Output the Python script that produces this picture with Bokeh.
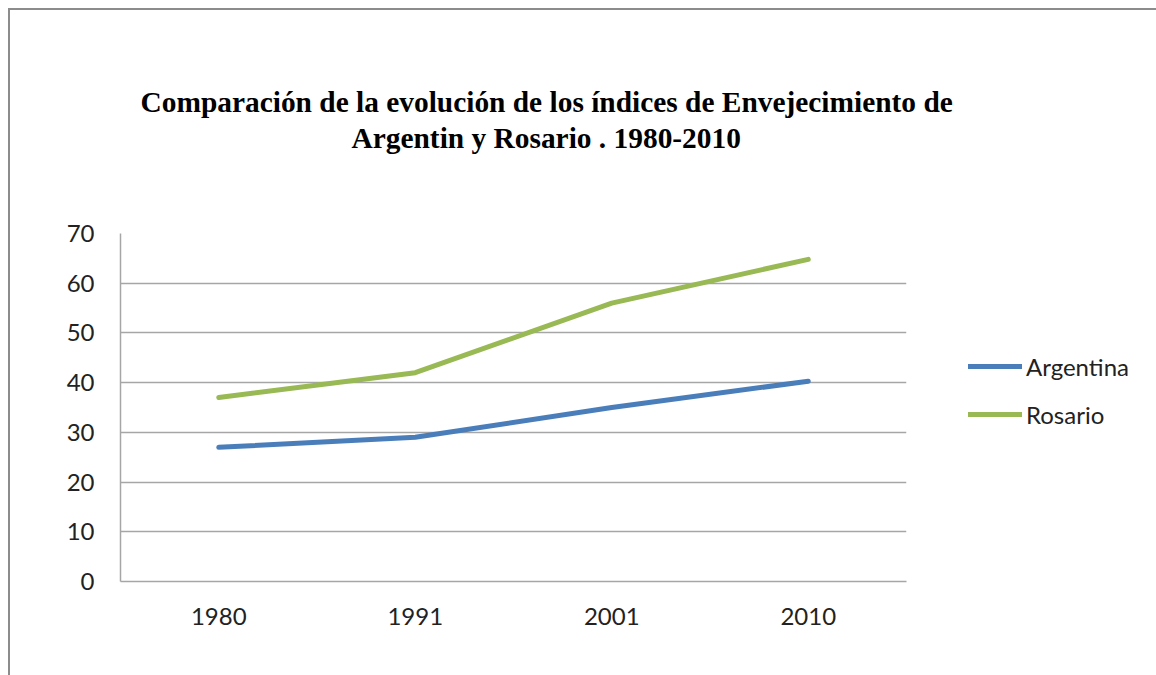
from bokeh.plotting import figure
from bokeh.models import Legend, LegendItem, FixedTicker, Range1d, Title
from bokeh.embed import file_html
from bokeh.resources import INLINE

years = ["1980", "1991", "2001", "2010"]
argentina = [27.0, 29.0, 35.0, 40.3]
rosario = [37.0, 42.0, 56.0, 64.8]
y_ticks = [0, 10, 20, 30, 40, 50, 60, 70]
title_lines = ["Comparación de la  evolución de los índices de Envejecimiento de",
               "Argentin y Rosario . 1980-2010"]

xs = list(range(len(years)))

p = figure(frame_width=786, frame_height=348, output_backend="svg", toolbar_location=None,
           x_range=Range1d(-0.5, len(years) - 0.5), y_range=Range1d(0, 70),
           min_border_left=110, min_border_right=250, min_border_top=223, min_border_bottom=94)
p.styles = {"border-top": "2px solid #8c8c8c", "border-left": "2px solid #8c8c8c",
            "margin-left": "8px", "margin-top": "8px"}
p.outline_line_color = None
p.background_fill_color = "white"
p.border_fill_color = "white"

grey = "#a6a6a6"
p.xgrid.grid_line_color = None
p.ygrid.grid_line_color = grey
p.ygrid.grid_line_width = 1.5
p.yaxis.ticker = FixedTicker(ticks=y_ticks)
p.xaxis.ticker = FixedTicker(ticks=xs)
p.xaxis.major_label_overrides = {i: y for i, y in enumerate(years)}
for ax in (p.xaxis, p.yaxis):
    ax.axis_line_color = grey
    ax.axis_line_width = 1.5
    ax.major_tick_line_color = None
    ax.minor_tick_line_color = None
    ax.major_label_text_font = "Lato"
    ax.major_label_text_font_size = "24px"
    ax.major_label_text_color = "#222222"
p.yaxis.major_label_standoff = 20
p.xaxis.major_label_standoff = 20

r1 = p.line(xs, argentina, line_color="#4a7ebb", line_width=5, line_cap="round")
r2 = p.line(xs, rosario, line_color="#98b954", line_width=5, line_cap="round")

legend = Legend(items=[LegendItem(label="Argentina", renderers=[r1]),
                       LegendItem(label="Rosario", renderers=[r2])],
                location=(62, 152), orientation="vertical")
legend.border_line_color = None
legend.background_fill_alpha = 0
legend.padding = 0
legend.margin = 0
legend.spacing = 18
legend.glyph_width = 54
legend.glyph_height = 30
legend.label_height = 30
legend.label_standoff = 4
legend.label_text_font = "Lato"
legend.label_text_font_size = "24px"
legend.label_text_color = "#222222"
p.add_layout(legend, "right")

spacer = Title(text=" ", text_font_size="1px", standoff=76)
p.add_layout(spacer, "above")
for line, off in zip(reversed(title_lines), [231, 20]):
    p.add_layout(Title(text=line, align="left", offset=off, standoff=2,
                       text_font="Liberation Serif", text_font_style="bold",
                       text_font_size="29.4px", text_color="black"), "above")

open("out.html", "w").write(file_html(p, INLINE))
